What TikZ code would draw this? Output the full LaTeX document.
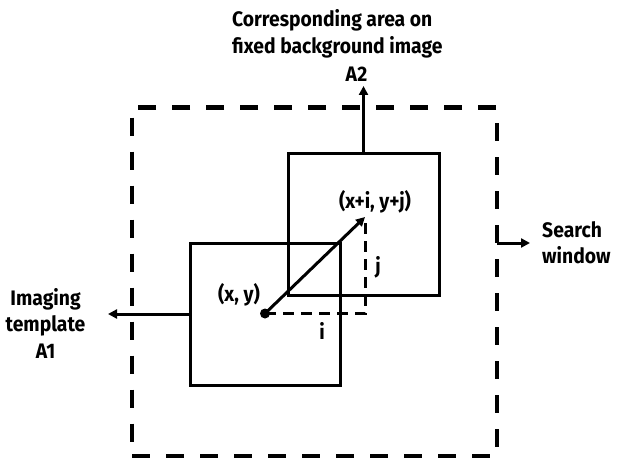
\documentclass[tikz,border=0pt]{standalone}
\usepackage{fontspec}
\setmainfont{Fira Sans}[FakeStretch=0.92]
\usetikzlibrary{arrows.meta}
\begin{document}
\begin{tikzpicture}[x=1pt,y=-1pt,
  dashbox/.style={draw, line width=4pt, dash pattern=on 18pt off 16pt, inner sep=0pt, outer sep=0pt},
  tmplbox/.style={draw, line width=3pt, inner sep=0pt, outer sep=0pt},
  arr/.style={line width=3pt, -{Triangle[length=9pt,width=9pt]}},
  lbl/.style={font=\bfseries\fontsize{21}{26.5}\selectfont, inner sep=0pt}]
\useasboundingbox (0,0) rectangle (620,468);
% search window
\node[dashbox, minimum width=365pt, minimum height=348pt] (SW) at (314.5,281.5) {};
% template boxes
\node[tmplbox, minimum width=150pt, minimum height=142pt] (A1) at (265,314) {};
\node[tmplbox, minimum width=151pt, minimum height=142pt] (A2) at (363.5,224) {};
% point and displacement
\node[circle, fill, inner sep=0pt, minimum size=10pt] (P) at (265,313.5) {};
\coordinate (Q) at (365,217);
\draw[line width=3pt, dash pattern=on 11pt off 7pt] (P.center) -| (Q);
\draw[arr] (P.center) -- (Q);
% outgoing connectors
\coordinate (L) at (108,314);
\draw[arr] (A1.west) -- (L);
\coordinate (T) at (363.5,86);
\draw[arr] (A2.north) -- (T);
\coordinate (S0) at (497,243);
\coordinate (S1) at (530,243);
\draw[arr] (S0) -- (S1);
% labels
\node[lbl] (pxy) at (239,295) {(x, y)};
\node[lbl] (pij) at (375,202) {(x+i, y+j)};
\node[lbl] (lj) at (378,267) {j};
\node[lbl] (li) at (322,331) {i};
\node[lbl, anchor=base] (la2) at (356.5,82) {A2};
\node[lbl, anchor=base west] (corr) at (232,27) {Corresponding area on};
\node[lbl, anchor=base west] (corr2) at (232,53.5) {fixed background image};
\node[lbl, anchor=base] (im1) at (45.5,305) {Imaging};
\node[lbl, anchor=base] (im2) at (45.5,331) {template};
\node[lbl, anchor=base] (im3) at (45.5,358) {A1};
\node[lbl, anchor=base west] (sw1) at (542,237) {Search};
\node[lbl, anchor=base west] (sw2) at (542,263) {window};
\end{tikzpicture}
\end{document}
